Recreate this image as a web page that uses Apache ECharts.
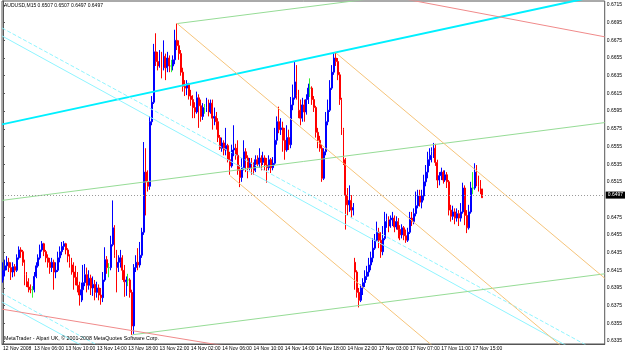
<!DOCTYPE html>
<html>
<head>
<meta charset="utf-8">
<script src="https://cdn.jsdelivr.net/npm/echarts@6.0.0/dist/echarts.min.js"></script>
<style>
  html, body { margin: 0; padding: 0; background: #fff; }
  #chart { width: 625px; height: 353px; }
</style>
</head>
<body>
<div id="chart"></div>
<script>
// AUDUSD M15, one entry per bar
const timeLabels = [
  '12 Nov 2008', '13 Nov 06:00', '13 Nov 10:00', '13 Nov 14:00', '13 Nov 18:00', '13 Nov 22:00',
  '14 Nov 02:00', '14 Nov 06:00', '14 Nov 10:00', '14 Nov 14:00', '14 Nov 18:00', '14 Nov 22:00',
  '17 Nov 03:00', '17 Nov 07:00', '17 Nov 11:00', '17 Nov 15:00'
];

const opens = [
  0.6404, 0.6415, 0.6420, 0.6424, 0.6418, 0.6413, 0.6419, 0.6415, 0.6429, 0.6438,
  0.6436, 0.6424, 0.6410, 0.6402, 0.6396, 0.6393, 0.6393, 0.6408, 0.6420, 0.6429,
  0.6438, 0.6445, 0.6436, 0.6429, 0.6424, 0.6418, 0.6424, 0.6413, 0.6415, 0.6429,
  0.6436, 0.6442, 0.6445, 0.6438, 0.6431, 0.6424, 0.6421, 0.6413, 0.6407, 0.6398,
  0.6387, 0.6393, 0.6401, 0.6410, 0.6398, 0.6406, 0.6395, 0.6399, 0.6390, 0.6395,
  0.6387, 0.6384, 0.6404, 0.6427, 0.6418, 0.6418, 0.6444, 0.6463, 0.6432, 0.6418,
  0.6424, 0.6429, 0.6415, 0.6402, 0.6404, 0.6404, 0.6390, 0.6352, 0.6418, 0.6424,
  0.6421, 0.6432, 0.6458, 0.6526, 0.6515, 0.6510, 0.6583, 0.6605, 0.6662, 0.6651,
  0.6646, 0.6655, 0.6644, 0.6657, 0.6644, 0.6655, 0.6646, 0.6646, 0.6653, 0.6675,
  0.6669, 0.6660, 0.6639, 0.6623, 0.6621, 0.6626, 0.6612, 0.6608, 0.6599, 0.6594,
  0.6610, 0.6601, 0.6589, 0.6599, 0.6599, 0.6603, 0.6594, 0.6604, 0.6587, 0.6589,
  0.6583, 0.6565, 0.6553, 0.6559, 0.6551, 0.6556, 0.6540, 0.6533, 0.6551, 0.6553,
  0.6545, 0.6528, 0.6520, 0.6531, 0.6549, 0.6542, 0.6531, 0.6537, 0.6533, 0.6528,
  0.6540, 0.6535, 0.6542, 0.6537, 0.6542, 0.6534, 0.6531, 0.6540, 0.6531, 0.6536,
  0.6562, 0.6583, 0.6574, 0.6576, 0.6562, 0.6551, 0.6565, 0.6557, 0.6602, 0.6610,
  0.6628, 0.6613, 0.6596, 0.6587, 0.6602, 0.6594, 0.6608, 0.6621, 0.6621, 0.6608,
  0.6599, 0.6571, 0.6562, 0.6553, 0.6519, 0.6549, 0.6583, 0.6596, 0.6621, 0.6639,
  0.6655, 0.6651, 0.6636, 0.6608, 0.6574, 0.6540, 0.6500, 0.6489, 0.6494, 0.6483,
  0.6424, 0.6413, 0.6390, 0.6381, 0.6395, 0.6401, 0.6408, 0.6413, 0.6421, 0.6429,
  0.6440, 0.6449, 0.6458, 0.6449, 0.6436, 0.6451, 0.6470, 0.6472, 0.6465, 0.6472,
  0.6474, 0.6464, 0.6470, 0.6461, 0.6455, 0.6463, 0.6454, 0.6449, 0.6458, 0.6474,
  0.6470, 0.6479, 0.6488, 0.6499, 0.6492, 0.6499, 0.6515, 0.6526, 0.6540, 0.6545,
  0.6549, 0.6553, 0.6537, 0.6517, 0.6522, 0.6526, 0.6517, 0.6523, 0.6515, 0.6483,
  0.6476, 0.6481, 0.6474, 0.6479, 0.6474, 0.6481, 0.6508, 0.6477, 0.6463, 0.6481,
  0.6508, 0.6508, 0.6526, 0.6517, 0.6510, 0.6507
];

const closes = [
  0.6415, 0.6420, 0.6424, 0.6418, 0.6413, 0.6419, 0.6415, 0.6429, 0.6438, 0.6436,
  0.6424, 0.6410, 0.6402, 0.6396, 0.6393, 0.6393, 0.6408, 0.6420, 0.6429, 0.6438,
  0.6445, 0.6436, 0.6429, 0.6424, 0.6418, 0.6424, 0.6413, 0.6415, 0.6429, 0.6436,
  0.6442, 0.6445, 0.6438, 0.6431, 0.6424, 0.6421, 0.6413, 0.6407, 0.6398, 0.6387,
  0.6393, 0.6401, 0.6410, 0.6398, 0.6406, 0.6395, 0.6399, 0.6390, 0.6395, 0.6387,
  0.6384, 0.6404, 0.6427, 0.6418, 0.6418, 0.6444, 0.6463, 0.6432, 0.6418, 0.6424,
  0.6429, 0.6415, 0.6402, 0.6404, 0.6404, 0.6390, 0.6352, 0.6418, 0.6424, 0.6421,
  0.6432, 0.6458, 0.6526, 0.6515, 0.6510, 0.6583, 0.6605, 0.6662, 0.6651, 0.6646,
  0.6655, 0.6644, 0.6657, 0.6644, 0.6655, 0.6646, 0.6646, 0.6653, 0.6675, 0.6669,
  0.6660, 0.6639, 0.6623, 0.6621, 0.6626, 0.6612, 0.6608, 0.6599, 0.6594, 0.6610,
  0.6601, 0.6589, 0.6599, 0.6599, 0.6603, 0.6594, 0.6604, 0.6587, 0.6589, 0.6583,
  0.6565, 0.6553, 0.6559, 0.6551, 0.6556, 0.6540, 0.6533, 0.6551, 0.6553, 0.6545,
  0.6528, 0.6520, 0.6531, 0.6549, 0.6542, 0.6531, 0.6537, 0.6533, 0.6528, 0.6540,
  0.6535, 0.6542, 0.6537, 0.6542, 0.6534, 0.6531, 0.6540, 0.6531, 0.6536, 0.6562,
  0.6583, 0.6574, 0.6576, 0.6562, 0.6551, 0.6565, 0.6557, 0.6602, 0.6610, 0.6628,
  0.6613, 0.6596, 0.6587, 0.6602, 0.6594, 0.6608, 0.6621, 0.6621, 0.6608, 0.6599,
  0.6571, 0.6562, 0.6553, 0.6519, 0.6549, 0.6583, 0.6596, 0.6621, 0.6639, 0.6655,
  0.6651, 0.6636, 0.6608, 0.6574, 0.6540, 0.6500, 0.6489, 0.6494, 0.6483, 0.6486,
  0.6413, 0.6390, 0.6381, 0.6395, 0.6401, 0.6408, 0.6413, 0.6421, 0.6429, 0.6440,
  0.6449, 0.6458, 0.6449, 0.6436, 0.6451, 0.6470, 0.6472, 0.6465, 0.6472, 0.6474,
  0.6464, 0.6470, 0.6461, 0.6455, 0.6463, 0.6454, 0.6449, 0.6458, 0.6474, 0.6470,
  0.6479, 0.6488, 0.6499, 0.6492, 0.6499, 0.6515, 0.6526, 0.6540, 0.6545, 0.6549,
  0.6553, 0.6537, 0.6517, 0.6522, 0.6526, 0.6517, 0.6523, 0.6515, 0.6483, 0.6476,
  0.6481, 0.6474, 0.6479, 0.6474, 0.6481, 0.6508, 0.6477, 0.6463, 0.6481, 0.6508,
  0.6508, 0.6526, 0.6517, 0.6510, 0.6507, 0.6497
];

const lows = [
  0.6401, 0.6408, 0.6415, 0.6413, 0.6404, 0.6407, 0.6408, 0.6413, 0.6427, 0.6429,
  0.6420, 0.6398, 0.6396, 0.6390, 0.6389, 0.6384, 0.6390, 0.6406, 0.6418, 0.6427,
  0.6436, 0.6431, 0.6424, 0.6418, 0.6411, 0.6413, 0.6393, 0.6406, 0.6413, 0.6424,
  0.6432, 0.6438, 0.6433, 0.6424, 0.6418, 0.6410, 0.6393, 0.6398, 0.6390, 0.6375,
  0.6379, 0.6381, 0.6397, 0.6390, 0.6393, 0.6387, 0.6386, 0.6381, 0.6384, 0.6381,
  0.6376, 0.6379, 0.6402, 0.6411, 0.6407, 0.6415, 0.6442, 0.6429, 0.6390, 0.6413,
  0.6418, 0.6404, 0.6385, 0.6386, 0.6397, 0.6384, 0.6342, 0.6343, 0.6413, 0.6415,
  0.6418, 0.6429, 0.6455, 0.6477, 0.6504, 0.6506, 0.6579, 0.6603, 0.6646, 0.6641,
  0.6644, 0.6632, 0.6641, 0.6630, 0.6639, 0.6639, 0.6639, 0.6641, 0.6648, 0.6664,
  0.6653, 0.6635, 0.6617, 0.6612, 0.6613, 0.6608, 0.6601, 0.6587, 0.6587, 0.6592,
  0.6576, 0.6583, 0.6585, 0.6592, 0.6594, 0.6589, 0.6592, 0.6574, 0.6579, 0.6574,
  0.6560, 0.6551, 0.6549, 0.6545, 0.6545, 0.6537, 0.6523, 0.6531, 0.6544, 0.6540,
  0.6523, 0.6509, 0.6515, 0.6528, 0.6526, 0.6519, 0.6528, 0.6523, 0.6523, 0.6526,
  0.6531, 0.6531, 0.6528, 0.6534, 0.6528, 0.6514, 0.6528, 0.6525, 0.6528, 0.6534,
  0.6557, 0.6570, 0.6568, 0.6549, 0.6540, 0.6549, 0.6551, 0.6553, 0.6596, 0.6608,
  0.6608, 0.6587, 0.6579, 0.6583, 0.6583, 0.6591, 0.6603, 0.6611, 0.6602, 0.6594,
  0.6565, 0.6553, 0.6549, 0.6515, 0.6517, 0.6545, 0.6579, 0.6594, 0.6619, 0.6636,
  0.6646, 0.6630, 0.6602, 0.6568, 0.6534, 0.6461, 0.6477, 0.6481, 0.6474, 0.6477,
  0.6393, 0.6384, 0.6373, 0.6379, 0.6387, 0.6396, 0.6404, 0.6408, 0.6415, 0.6424,
  0.6438, 0.6447, 0.6440, 0.6429, 0.6432, 0.6449, 0.6463, 0.6458, 0.6463, 0.6465,
  0.6458, 0.6461, 0.6451, 0.6449, 0.6451, 0.6449, 0.6446, 0.6447, 0.6456, 0.6465,
  0.6467, 0.6476, 0.6485, 0.6487, 0.6485, 0.6494, 0.6510, 0.6519, 0.6533, 0.6537,
  0.6542, 0.6533, 0.6508, 0.6511, 0.6517, 0.6513, 0.6515, 0.6508, 0.6477, 0.6470,
  0.6472, 0.6467, 0.6470, 0.6465, 0.6470, 0.6479, 0.6466, 0.6457, 0.6461, 0.6479,
  0.6501, 0.6506, 0.6510, 0.6504, 0.6501, 0.6497
];

const highs = [
  0.6424, 0.6427, 0.6431, 0.6429, 0.6424, 0.6424, 0.6422, 0.6433, 0.6442, 0.6441,
  0.6438, 0.6427, 0.6413, 0.6406, 0.6399, 0.6397, 0.6413, 0.6424, 0.6433, 0.6444,
  0.6448, 0.6446, 0.6438, 0.6433, 0.6429, 0.6429, 0.6427, 0.6424, 0.6436, 0.6442,
  0.6447, 0.6448, 0.6446, 0.6440, 0.6433, 0.6429, 0.6424, 0.6420, 0.6413, 0.6402,
  0.6401, 0.6421, 0.6422, 0.6418, 0.6415, 0.6410, 0.6408, 0.6404, 0.6402, 0.6399,
  0.6395, 0.6413, 0.6441, 0.6431, 0.6423, 0.6454, 0.6494, 0.6466, 0.6438, 0.6432,
  0.6438, 0.6432, 0.6421, 0.6408, 0.6411, 0.6406, 0.6393, 0.6422, 0.6432, 0.6440,
  0.6447, 0.6463, 0.6560, 0.6553, 0.6528, 0.6589, 0.6612, 0.6671, 0.6683, 0.6662,
  0.6664, 0.6662, 0.6675, 0.6660, 0.6662, 0.6658, 0.6653, 0.6658, 0.6687, 0.6694,
  0.6675, 0.6664, 0.6644, 0.6630, 0.6630, 0.6627, 0.6619, 0.6613, 0.6605, 0.6617,
  0.6614, 0.6608, 0.6604, 0.6603, 0.6610, 0.6608, 0.6608, 0.6608, 0.6599, 0.6594,
  0.6587, 0.6568, 0.6565, 0.6562, 0.6576, 0.6558, 0.6549, 0.6557, 0.6579, 0.6558,
  0.6562, 0.6534, 0.6542, 0.6562, 0.6553, 0.6545, 0.6542, 0.6542, 0.6537, 0.6545,
  0.6545, 0.6553, 0.6545, 0.6549, 0.6545, 0.6542, 0.6545, 0.6542, 0.6543, 0.6576,
  0.6589, 0.6600, 0.6587, 0.6583, 0.6576, 0.6579, 0.6574, 0.6611, 0.6625, 0.6651,
  0.6647, 0.6619, 0.6608, 0.6610, 0.6608, 0.6614, 0.6626, 0.6632, 0.6623, 0.6612,
  0.6601, 0.6576, 0.6567, 0.6557, 0.6553, 0.6594, 0.6608, 0.6630, 0.6647, 0.6661,
  0.6661, 0.6655, 0.6639, 0.6610, 0.6576, 0.6542, 0.6508, 0.6511, 0.6500, 0.6491,
  0.6429, 0.6415, 0.6395, 0.6399, 0.6406, 0.6415, 0.6420, 0.6429, 0.6436, 0.6451,
  0.6456, 0.6470, 0.6463, 0.6458, 0.6465, 0.6481, 0.6479, 0.6476, 0.6477, 0.6481,
  0.6477, 0.6476, 0.6474, 0.6466, 0.6467, 0.6465, 0.6461, 0.6463, 0.6481, 0.6481,
  0.6485, 0.6504, 0.6506, 0.6506, 0.6506, 0.6523, 0.6534, 0.6549, 0.6553, 0.6554,
  0.6559, 0.6558, 0.6540, 0.6526, 0.6531, 0.6528, 0.6528, 0.6526, 0.6517, 0.6489,
  0.6488, 0.6485, 0.6485, 0.6483, 0.6491, 0.6514, 0.6511, 0.6483, 0.6489, 0.6515,
  0.6526, 0.6536, 0.6534, 0.6522, 0.6517, 0.6507
];

// right-hand price scale
const priceTicks = [
  0.6335, 0.6355, 0.6375, 0.6395, 0.6415, 0.6435, 0.6455, 0.6475,
  0.6515, 0.6535, 0.6555, 0.6575, 0.6595, 0.6615, 0.6635, 0.6655, 0.6675, 0.6695, 0.6715
];

// trend lines drawn on the chart: [bar index, price] anchor pairs
const trendLines = [
  [[-0.5, 0.6580], [307.5, 0.6727]],
  [[-0.5, 0.6689], [307.5, 0.6319]],
  [[-0.5, 0.6680], [307.5, 0.6306]],
  [[-0.5, 0.6389], [60, 0.6316]],
  [[-0.5, 0.6379], [60, 0.6306]],
  [[89, 0.6694], [307.5, 0.6756]],
  [[-0.5, 0.6494], [307.5, 0.6582]],
  [[66, 0.6342], [307.5, 0.6411]],
  [[-0.5, 0.6371], [120, 0.6327]],
  [[200, 0.6724], [307.5, 0.6679]],
  [[89, 0.6694], [307.5, 0.6288]],
  [[170, 0.6661], [307.5, 0.6406]],
  [[116, 0.6522], [307.5, 0.6166]]
];

const barSlots = 308;

const trendStyles = [
  { color: '#00f0ff', width: 2, type: 'solid' },
  { color: '#8ff4ff', width: 1, type: [4, 2] },
  { color: '#8ff4ff', width: 1, type: 'solid' },
  { color: '#8ff4ff', width: 1, type: [4, 2] },
  { color: '#8ff4ff', width: 1, type: 'solid' },
  { color: '#96dc96', width: 1, type: 'solid' },
  { color: '#96dc96', width: 1, type: 'solid' },
  { color: '#96dc96', width: 1, type: 'solid' },
  { color: '#f08a8a', width: 1, type: 'solid' },
  { color: '#f08a8a', width: 1, type: 'solid' },
  { color: '#f6c47a', width: 1, type: 'solid' },
  { color: '#f6c47a', width: 1, type: 'solid' },
  { color: '#f6c47a', width: 1, type: 'solid' }
];

const categories = [];
for (let i = 0; i < barSlots; i++) {
  categories.push(i % 16 === 0 && timeLabels[i / 16] ? timeLabels[i / 16] : '');
}

const dojiStyle = { color: '#33ee33', color0: '#33ee33', borderColor: '#33ee33', borderColor0: '#33ee33' };
const candleData = opens.map((o, i) => {
  const item = { value: [o, closes[i], lows[i], highs[i]] };
  if (o === closes[i]) item.itemStyle = dojiStyle;
  return item;
});

const last = closes.length - 1;
const fmt = v => v.toFixed(4);
const font = 'Liberation Sans';
const showLabel = (i, v) => v !== '';

const chart = echarts.init(document.getElementById('chart'));

const option = {
  animation: false,
  backgroundColor: '#fff',
  grid: {
    left: 2, top: 1, width: 604.45, height: 343,
    show: true, borderColor: '#555', borderWidth: 1
  },
  xAxis: [
    {
      type: 'category',
      data: categories,
      boundaryGap: true,
      axisLine: { lineStyle: { color: '#555' } },
      axisTick: { interval: showLabel, alignWithLabel: true, length: 2, lineStyle: { color: '#555' } },
      axisLabel: {
        interval: showLabel, align: 'left', margin: 2,
        fontSize: 5, fontFamily: font, color: '#000'
      },
      splitLine: { show: false }
    },
    { type: 'value', min: -0.5, max: barSlots - 0.5, show: false }
  ],
  yAxis: {
    type: 'value',
    position: 'right',
    scale: true,
    min: 0.63316,
    max: 0.67195,
    axisLine: { show: true, lineStyle: { color: '#555' } },
    axisTick: { show: true, length: 2, customValues: priceTicks, lineStyle: { color: '#555' } },
    axisLabel: {
      customValues: priceTicks, margin: 2, formatter: fmt,
      fontSize: 5, fontFamily: font, color: '#000'
    },
    splitLine: { show: false }
  },
  graphic: [
    {
      type: 'text', left: 4, top: 3, z: 100,
      style: {
        text: 'AUDUSD,M15 ' + [opens[last], highs[last], lows[last], closes[last]].map(fmt).join(' '),
        fontSize: 5, fontFamily: font, fill: '#000'
      }
    },
    {
      type: 'text', left: 4, top: 336, z: 100,
      style: {
        text: 'MetaTrader - Alpari UK, \u00a9 2001-2008 MetaQuotes Software Corp.',
        fontSize: 5.3, fontFamily: font, fill: '#000'
      }
    }
  ],
  series: [
    {
      type: 'candlestick',
      xAxisIndex: 0,
      data: candleData,
      barWidth: 1.4,
      itemStyle: {
        color: '#0000ff', color0: '#ff0000',
        borderColor: '#0000ff', borderColor0: '#ff0000', borderWidth: 1
      },
      markLine: {
        silent: true,
        symbol: 'none',
        data: [{ yAxis: closes[last] }],
        lineStyle: { color: '#999', type: [1, 2], width: 1 },
        label: {
          show: true, position: 'end', distance: 1,
          formatter: fmt(closes[last]),
          backgroundColor: '#000', color: '#fff', padding: [1, 2],
          fontSize: 5, fontFamily: font
        }
      }
    }
  ].concat(trendLines.map((pts, i) => ({
    type: 'line',
    xAxisIndex: 1,
    data: pts,
    symbol: 'none',
    silent: true,
    z: 3,
    lineStyle: trendStyles[i]
  })))
};

chart.setOption(option);
</script>
</body>
</html>
